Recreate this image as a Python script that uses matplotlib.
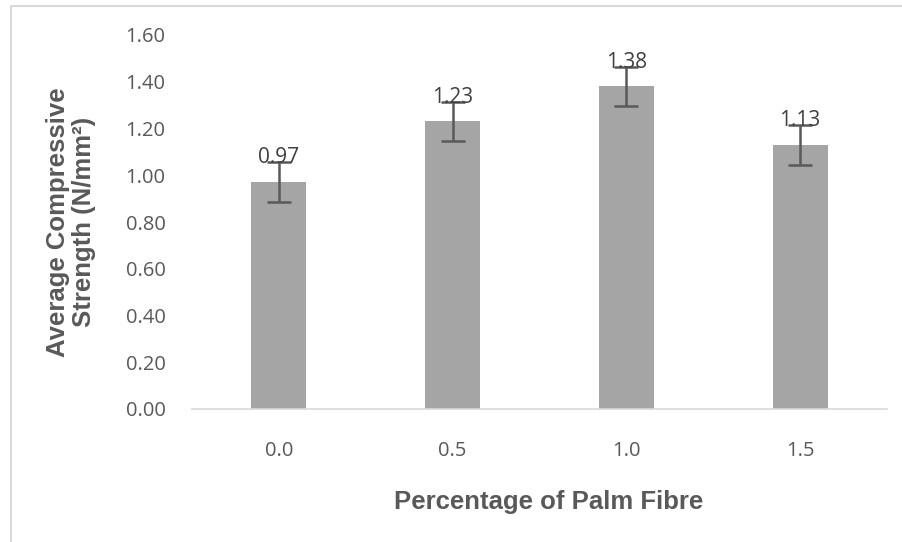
import matplotlib.pyplot as plt
from matplotlib.patches import Rectangle

# Dados
categorias = ["0.0", "0.5", "1.0", "1.5"]
resistencia = [0.97, 1.23, 1.38, 1.13]
erro = [0.085, 0.085, 0.085, 0.085]
rotulos = ["0.97", "1.23", "1.38", "1.13"]

W, H = 903, 542
fig = plt.figure(figsize=(W / 100, H / 100), dpi=100)
ax = fig.add_axes([192 / W, 1 - 409 / H, 695 / W, 374 / H])

# Moldura do gráfico (só topo e esquerda ficam visíveis)
fig.patches.append(Rectangle((11 / W, -0.2), 1.2, 1.2 - 6 / H,
                             transform=fig.transFigure, fill=False,
                             edgecolor="#D9D9D9", linewidth=1.5))

x = range(len(categorias))
ax.bar(x, resistencia, width=0.316, color="#A5A5A5", zorder=2)
ax.errorbar(x, resistencia, yerr=erro, fmt="none", ecolor="#595959",
            elinewidth=1.8, capsize=8.5, capthick=1.8, zorder=3)

for xi, v, txt in zip(x, resistencia, rotulos):
    ax.annotate(txt, (xi, v), xytext=(0, 10), textcoords="offset points",
                ha="center", va="bottom", fontsize=15, color="#404040",
                family="Open Sans", zorder=4)

ax.set_xlim(-0.5, 3.5)
ax.set_ylim(0, 1.6)
ax.set_yticks([i * 0.2 for i in range(9)])
ax.set_yticklabels([f"{i * 0.2:.2f}" for i in range(9)])
ax.set_xticks(list(x))
ax.set_xticklabels(categorias)
ax.tick_params(axis="both", length=0, labelsize=14.5, labelcolor="#595959")
ax.tick_params(axis="y", pad=19)
ax.tick_params(axis="x", pad=23)
for lab in ax.get_xticklabels() + ax.get_yticklabels():
    lab.set_family("Open Sans")

for lado in ["top", "right", "left"]:
    ax.spines[lado].set_visible(False)
ax.spines["bottom"].set_color("#D9D9D9")
ax.spines["bottom"].set_linewidth(1.2)

fig.text(549 / W, 1 - 502 / H, "Percentage of Palm Fibre", fontsize=18.5,
         fontweight="bold", color="#595959", family="Liberation Sans",
         ha="center", va="center")
fig.text(71 / W, 1 - 222 / H, "Average Compressive\nStrength (N/mm²)",
         fontsize=18.5, fontweight="bold", color="#595959",
         family="Liberation Sans", ha="center", va="center", rotation=90,
         linespacing=1.15, multialignment="center")

fig.savefig("out.png", dpi=100)
